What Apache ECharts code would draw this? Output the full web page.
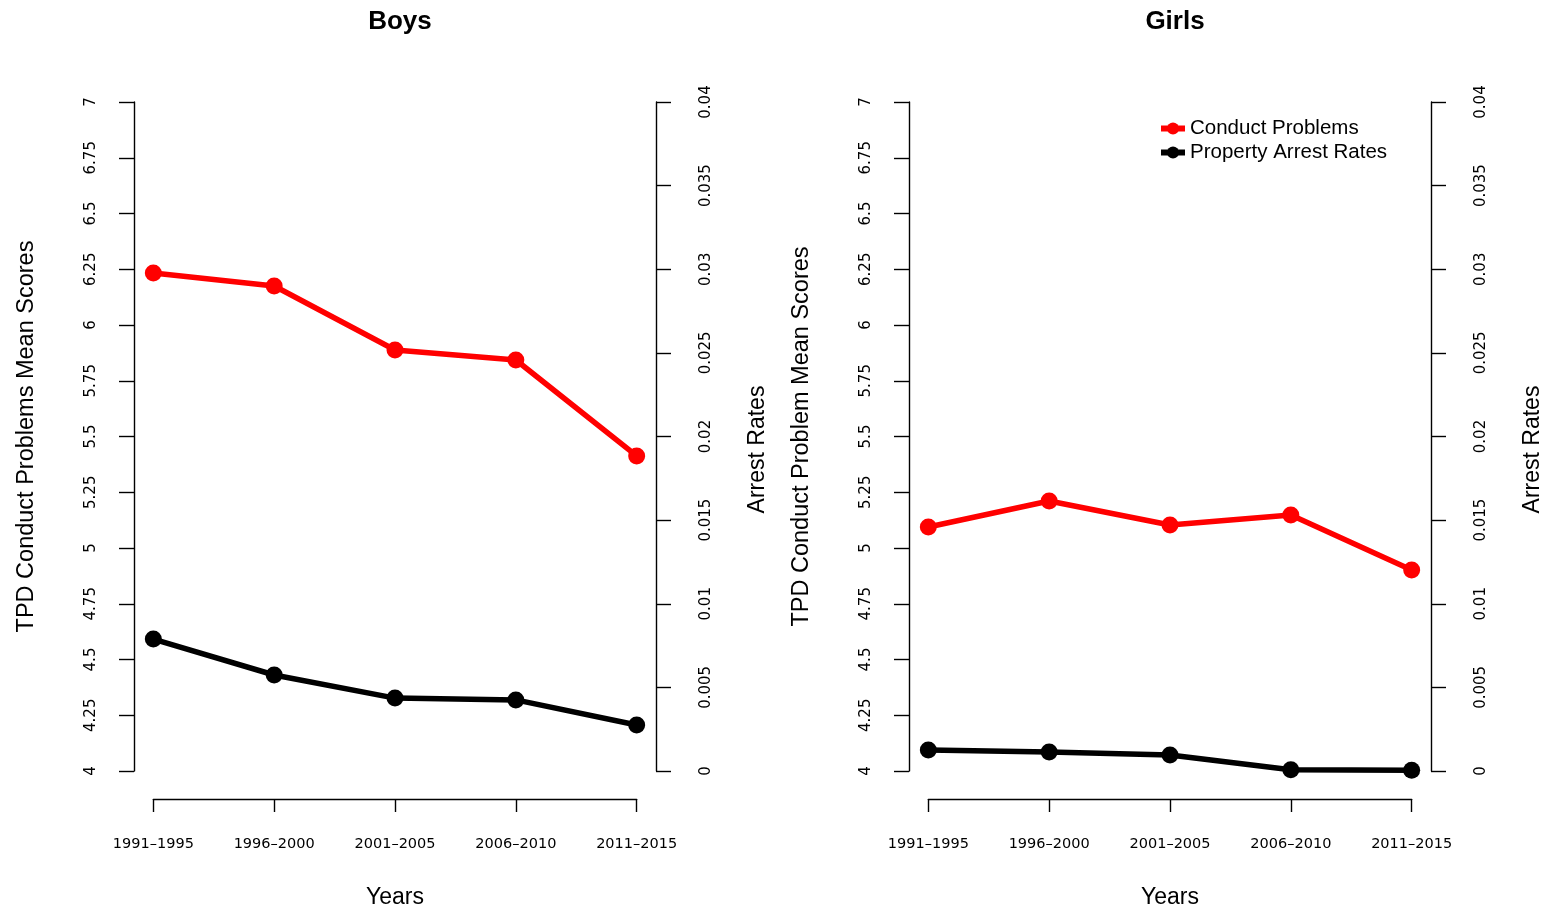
<!DOCTYPE html>
<html>
<head>
<meta charset="utf-8">
<script src="https://cdn.jsdelivr.net/npm/echarts@6/dist/echarts.min.js"></script>
<style>
  html, body { margin: 0; padding: 0; background: #fff; }
  #chart { width: 1547px; height: 912px; }
</style>
</head>
<body>
<div id="chart"></div>
<script>
// Five-year periods on the x axis
const periods = ['1991\u20131995', '1996\u20132000', '2001\u20132005', '2006\u20132010', '2011\u20132015'];

// TPD conduct problems mean scores (left axis)
const boysConduct  = [6.233, 6.175, 5.888, 5.843, 5.413];
const girlsConduct = [5.094, 5.211, 5.103, 5.148, 4.901];

// Property arrest rates (right axis)
const boysArrest  = [0.00789, 0.00574, 0.00436, 0.00425, 0.00275];
const girlsArrest = [0.00126, 0.00114, 0.00096, 0.00008, 0.00005];

// Axis ranges and tick steps
const scoreRange = { min: 4, max: 7, interval: 0.25 };
const rateRange  = { min: 0, max: 0.04, interval: 0.005 };

const panelTitles = ['Boys', 'Girls'];
const scoreTitles = ['TPD Conduct Problems Mean Scores', 'TPD Conduct Problem Mean Scores'];
const rateTitle = 'Arrest Rates';
const xTitle = 'Years';
const seriesNames = ['Conduct Problems', 'Property Arrest Rates'];

const RED = '#ff0000';
const BLACK = '#000000';
const SANS = '"Liberation Sans", Arial, Helvetica, sans-serif';
const TICKFONT = '"DejaVu Sans", "Liberation Sans", sans-serif';

const chart = echarts.init(document.getElementById('chart'), null, { renderer: 'canvas' });

// layout of one panel (plot box and the detached x axis underneath)
const panelOffset = [0, 775];
const panelCentre = [395, 1170];
const box = { left: 134, top: 102, width: 522, height: 669 };
const xAxisY = 799;
const xPad = 0.04 * (periods.length - 1);

const grids = [], xAxes = [], yAxes = [], series = [], titles = [];

const axisLineStyle = { color: BLACK, width: 1.4 };

[0, 1].forEach(p => {
  const dx = panelOffset[p];
  const dataGrid = grids.length;
  grids.push({ left: box.left + dx, top: box.top, width: box.width, height: box.height,
               containLabel: false, outerBoundsMode: 'none' });
  const xGrid = grids.length;
  // x axis spans the first to last period, sitting below the plot box
  const step = box.width / (periods.length - 1 + 2 * xPad);
  grids.push({ left: box.left + dx + xPad * step, top: box.top,
               width: step * (periods.length - 1), height: xAxisY - box.top,
               containLabel: false, outerBoundsMode: 'none' });

  const xData = xAxes.length;
  xAxes.push({ gridIndex: dataGrid, type: 'value', min: 1 - xPad, max: periods.length + xPad, show: false });
  xAxes.push({
    gridIndex: xGrid, type: 'category', data: periods, boundaryGap: false,
    axisLine: { show: true, lineStyle: axisLineStyle },
    axisTick: { show: true, length: 13, inside: false, alignWithLabel: true, lineStyle: axisLineStyle },
    axisLabel: { color: BLACK, fontFamily: TICKFONT, fontSize: 14.5, margin: 38 },
    splitLine: { show: false },
    name: xTitle, nameLocation: 'middle', nameGap: 87,
    nameTextStyle: { color: BLACK, fontFamily: SANS, fontSize: 23 }
  });

  const yLeft = yAxes.length;
  yAxes.push({
    gridIndex: dataGrid, type: 'value', position: 'left',
    min: scoreRange.min, max: scoreRange.max, interval: scoreRange.interval,
    axisLine: { show: true, lineStyle: axisLineStyle },
    axisTick: { show: true, length: 15, inside: false, lineStyle: axisLineStyle },
    axisLabel: { color: BLACK, fontFamily: TICKFONT, fontSize: 15, rotate: 90, margin: 35,
                 formatter: v => String(+v.toFixed(2)) },
    splitLine: { show: false },
    name: scoreTitles[p], nameLocation: 'middle', nameGap: 95,
    nameTextStyle: { color: BLACK, fontFamily: SANS, fontSize: 23.5 }
  });
  const yRight = yAxes.length;
  yAxes.push({
    gridIndex: dataGrid, type: 'value', position: 'right',
    min: rateRange.min, max: rateRange.max, interval: rateRange.interval,
    axisLine: { show: true, lineStyle: axisLineStyle },
    axisTick: { show: true, length: 15, inside: false, lineStyle: axisLineStyle },
    axisLabel: { color: BLACK, fontFamily: TICKFONT, fontSize: 15, rotate: 90, margin: 43,
                 formatter: v => String(+v.toFixed(4)) },
    splitLine: { show: false },
    name: rateTitle, nameLocation: 'middle', nameGap: 90,
    nameTextStyle: { color: BLACK, fontFamily: SANS, fontSize: 23, padding: [0, 26, 0, 0] }
  });
  yAxes.push({ gridIndex: xGrid, type: 'value', show: false });

  const conduct = p === 0 ? boysConduct : girlsConduct;
  const arrest = p === 0 ? boysArrest : girlsArrest;

  series.push({
    name: seriesNames[0], type: 'line', xAxisIndex: xData, yAxisIndex: yLeft,
    data: conduct.map((v, i) => [i + 1, v]),
    symbol: 'circle', symbolSize: 17, color: RED,
    lineStyle: { color: RED, width: 5.5 }, itemStyle: { color: RED },
    z: 3
  });
  series.push({
    name: seriesNames[1], type: 'line', xAxisIndex: xData, yAxisIndex: yRight,
    data: arrest.map((v, i) => [i + 1, v]),
    symbol: 'circle', symbolSize: 17, color: BLACK,
    lineStyle: { color: BLACK, width: 5.5 }, itemStyle: { color: BLACK },
    z: 3
  });

  titles.push({
    text: panelTitles[p], left: panelCentre[p], top: 4, textAlign: 'center',
    textStyle: { color: BLACK, fontFamily: SANS, fontWeight: 'bold', fontSize: 26 }
  });
});

chart.setOption({
  animation: false,
  backgroundColor: '#ffffff',
  title: titles,
  grid: grids,
  xAxis: xAxes,
  yAxis: yAxes,
  series: series,
  legend: {
    data: seriesNames, orient: 'vertical', left: 1153, top: 113,
    itemWidth: 24, itemHeight: 15, itemGap: 3,
    lineStyle: { width: 6 },
    textStyle: { color: BLACK, fontFamily: SANS, fontSize: 20.5 }
  }
});
</script>
</body>
</html>
